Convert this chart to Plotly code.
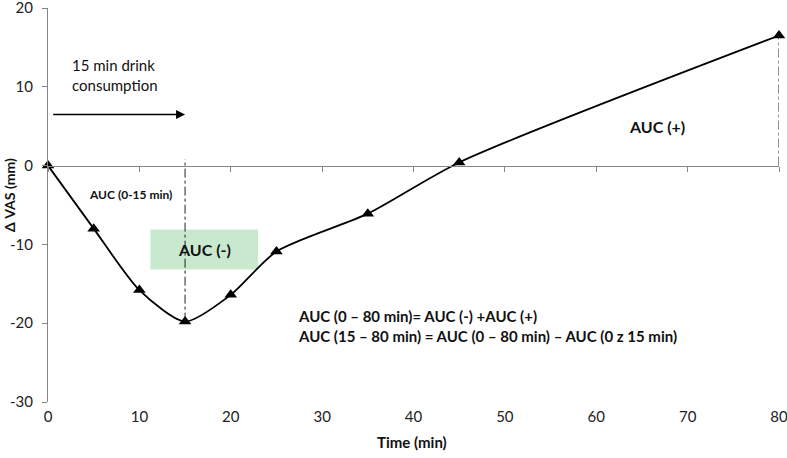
import plotly.graph_objects as go

time_min = [0, 5, 10, 15, 20, 25, 35, 45, 80]
delta_vas = [0, -8.0, -15.8, -19.8, -16.4, -10.9, -6.1, 0.4, 16.5]
x_ticks = [0, 10, 20, 30, 40, 50, 60, 70, 80]
y_ticks = [-30, -20, -10, 0, 10, 20]

FONT = "Lato"
AX = "#868686"
TXT = "#111111"

fig = go.Figure()

# dash-dot drop lines at 15 min and 80 min
fig.add_shape(type="line", x0=time_min[3], x1=time_min[3], y0=delta_vas[3], y1=0.8,
              line=dict(color="#222222", width=1, dash="dashdot"))
fig.add_shape(type="line", x0=time_min[-1], x1=time_min[-1], y0=0, y1=delta_vas[-1],
              line=dict(color="#222222", width=1, dash="dashdot"))

# green AUC(-) box
fig.add_shape(type="rect", x0=11.2, x1=23.0, y0=-13.2, y1=-8.1,
              fillcolor="#c9e9cf", line=dict(width=0), layer="below")

fig.add_trace(go.Scatter(
    x=time_min, y=delta_vas, mode="lines+markers",
    line=dict(color="black", width=1.8, shape="spline", smoothing=0.7),
    marker=dict(symbol="triangle-up", size=11, color="black"),
    cliponaxis=False, showlegend=False, xaxis="x", yaxis="y"))

# invisible trace for the zero-crossing x axis
fig.add_trace(go.Scatter(x=[0, 80], y=[0, 0], mode="lines", line=dict(width=0),
                         showlegend=False, hoverinfo="skip", xaxis="x2", yaxis="y"))

fig.update_layout(
    width=787, height=458,
    margin=dict(l=48, r=8, t=8, b=56, autoexpand=False),
    plot_bgcolor="white", paper_bgcolor="white",
    font=dict(family=FONT, size=15, color="#222222"),
    xaxis=dict(range=[0, 80], tickvals=x_ticks, ticktext=[str(v) for v in x_ticks],
               showgrid=False, zeroline=False, automargin=False,
               showline=False, ticks="", tickfont=dict(size=15),
               ticklabeloverflow="allow", ticklabelstandoff=4),
    xaxis2=dict(range=[0, 80], tickvals=x_ticks, overlaying="x", anchor="free",
                position=0.6, side="bottom", showticklabels=False, showgrid=False,
                zeroline=False, showline=True, linecolor=AX, linewidth=1,
                ticks="outside", ticklen=5, tickcolor=AX, automargin=False),
    yaxis=dict(range=[-30, 20], tickvals=y_ticks, ticktext=[str(v) for v in y_ticks],
               showgrid=False, zeroline=False, automargin=False,
               showline=True, linecolor=AX, linewidth=1, ticks="outside",
               ticklen=5, tickcolor=AX, tickfont=dict(size=15),
               ticklabeloverflow="allow", ticklabelstandoff=6),
)

# axis titles
fig.add_annotation(x=(412 - 48) / 731, y=(458 - 442 - 56) / 394, xref="paper", yref="paper",
                   text="<b>Time (min)</b>", showarrow=False, yanchor="middle",
                   font=dict(size=15, color=TXT))
fig.add_annotation(x=(9 - 48) / 731, y=(402 - 195) / 394, xref="paper", yref="paper",
                   text="<b>Δ VAS (mm)</b>", textangle=-90, showarrow=False,
                   font=dict(size=14, color=TXT), yanchor="middle", xanchor="center")

fig.add_annotation(x=15, y=6.5, ax=0.4, ay=6.5, xref="x", yref="y", axref="x", ayref="y",
                   text="", showarrow=True, arrowhead=2, arrowsize=1.2, arrowwidth=1.5,
                   arrowcolor="black")
fig.add_annotation(x=2.4, y=11.5, xref="x", yref="y", xanchor="left", yanchor="middle",
                   text="15 min drink<br>consumption", showarrow=False, align="left",
                   font=dict(size=15, color=TXT))
fig.add_annotation(x=4.3, y=-3.7, xref="x", yref="y", xanchor="left",
                   text="<b>AUC (0-15 min)</b>", showarrow=False, font=dict(size=12, color=TXT))
fig.add_annotation(x=17.1, y=-10.7, xref="x", yref="y",
                   text="<b>AUC (-)</b>", showarrow=False, font=dict(size=16, color=TXT))
fig.add_annotation(x=66.7, y=5.0, xref="x", yref="y",
                   text="<b>AUC (+)</b>", showarrow=False, font=dict(size=16, color=TXT))
fig.add_annotation(x=27.1, y=-20.3, xref="x", yref="y", xanchor="left", align="left",
                   text="<b>AUC (0 – 80 min)= AUC (-) +AUC (+)</b><br><b>AUC (15 – 80 min) = AUC (0 – 80 min) – AUC (0 z 15 min)</b>",
                   showarrow=False, font=dict(size=15, color=TXT))

fig.write_html("out.html", config={"displayModeBar": False},
               post_script="document.body.style.margin='0';")
